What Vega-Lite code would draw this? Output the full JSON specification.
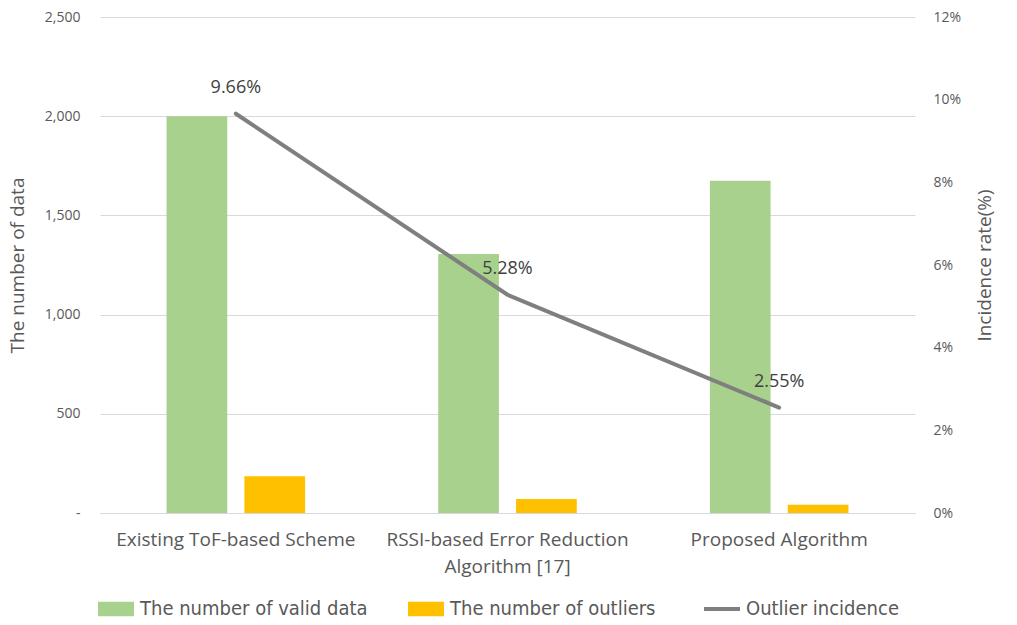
{
  "$schema": "https://vega.github.io/schema/vega-lite/v6.json",
  "width": 815,
  "height": 496,
  "autosize": "none",
  "padding": {"left": 100, "top": 17, "right": 102, "bottom": 112},
  "background": "white",
  "config": {
    "view": {"stroke": null},
    "font": "Open Sans"
  },
  "datasets": {
    "bars": [
      {"category": "Existing ToF-based Scheme", "series": "The number of valid data", "value": 2000},
      {"category": "Existing ToF-based Scheme", "series": "The number of outliers", "value": 185},
      {"category": "RSSI-based Error Reduction Algorithm [17]", "series": "The number of valid data", "value": 1305},
      {"category": "RSSI-based Error Reduction Algorithm [17]", "series": "The number of outliers", "value": 70},
      {"category": "Proposed Algorithm", "series": "The number of valid data", "value": 1675},
      {"category": "Proposed Algorithm", "series": "The number of outliers", "value": 42}
    ],
    "rates": [
      {"category": "Existing ToF-based Scheme", "series": "Outlier incidence", "rate": 0.0966, "label": "9.66%"},
      {"category": "RSSI-based Error Reduction Algorithm [17]", "series": "Outlier incidence", "rate": 0.0528, "label": "5.28%"},
      {"category": "Proposed Algorithm", "series": "Outlier incidence", "rate": 0.0255, "label": "2.55%"}
    ]
  },
  "encoding": {
    "x": {
      "field": "category",
      "type": "nominal",
      "sort": ["Existing ToF-based Scheme", "RSSI-based Error Reduction Algorithm [17]", "Proposed Algorithm"],
      "scale": {"paddingInner": 0.49, "paddingOuter": 0.245},
      "axis": {
        "title": null,
        "labelAngle": 0,
        "labelFontSize": 19,
        "labelColor": "#595959",
        "labelPadding": 17,
        "labelLineHeight": 27,
        "labelLimit": 500,
        "ticks": false,
        "domainColor": "#D9D9D9",
        "domainWidth": 1,
        "labelExpr": "datum.label == 'RSSI-based Error Reduction Algorithm [17]' ? ['RSSI-based Error Reduction', 'Algorithm [17]'] : datum.label"
      }
    },
    "color": {
      "field": "series",
      "type": "nominal",
      "scale": {
        "domain": ["The number of valid data", "The number of outliers", "Outlier incidence"],
        "range": ["#A9D18E", "#FFC000", "#7F7F7F"]
      },
      "legend": {
        "orient": "none",
        "legendX": 6,
        "legendY": 582,
        "direction": "horizontal",
        "columns": 3,
        "title": null,
        "labelFont": "DejaVu Sans Condensed, Roboto",
        "labelFontSize": 20,
        "labelColor": "#595959",
        "labelOffset": 14,
        "columnPadding": 40,
        "symbolSize": 1296,
        "symbolStrokeWidth": 0,
        "labelLimit": 400,
        "encode": {
          "symbols": {
            "update": {
              "shape": {"signal": "datum.value === 'Outlier incidence' ? 'M-1,0H1' : 'M-1,-0.4H1V0.4H-1Z'"},
              "fill": {"signal": "datum.value === 'Outlier incidence' ? 'transparent' : (datum.value === 'The number of valid data' ? '#A9D18E' : '#FFC000')"},
              "stroke": {"value": "#7F7F7F"},
              "strokeWidth": {"signal": "datum.value === 'Outlier incidence' ? 4 : 0"},
              "opacity": {"value": 1}
            }
          }
        }
      }
    }
  },
  "layer": [
    {
      "data": {"name": "bars"},
      "mark": {"type": "bar"},
      "encoding": {
        "xOffset": {
          "field": "series",
          "type": "nominal",
          "sort": ["The number of valid data", "The number of outliers"],
          "scale": {"paddingInner": 0.22, "paddingOuter": 0}
        },
        "y": {
          "field": "value",
          "type": "quantitative",
          "scale": {"domain": [0, 2500]},
          "axis": {
            "title": "The number of data",
            "titleFontSize": 19,
            "titleFontWeight": "normal",
            "titleColor": "#595959",
            "titlePadding": 17,
            "values": [0, 500, 1000, 1500, 2000, 2500],
            "labelExpr": "datum.value === 0 ? '-' : format(datum.value, ',')",
            "labelFontSize": 14,
            "labelColor": "#595959",
            "labelPadding": 20,
            "ticks": false,
            "domain": false,
            "grid": true,
            "gridColor": "#D9D9D9",
            "gridWidth": 1
          }
        }
      }
    },
    {
      "data": {"name": "rates"},
      "layer": [
        {
          "mark": {"type": "line", "strokeWidth": 4, "strokeCap": "round"},
          "encoding": {
            "y": {
              "field": "rate",
              "type": "quantitative",
              "scale": {"domain": [0, 0.12]},
              "axis": {
                "orient": "right",
                "title": "Incidence rate(%)",
                "titleFontSize": 19,
                "titleFontWeight": "normal",
                "titleColor": "#595959",
                "titleAngle": 270,
                "titlePadding": 34,
                "values": [0, 0.02, 0.04, 0.06, 0.08, 0.1, 0.12],
                "format": ".0%",
                "labelFontSize": 14,
                "labelColor": "#595959",
                "labelPadding": 18,
                "ticks": false,
                "domain": false,
                "grid": false
              }
            }
          }
        },
        {
          "mark": {"type": "text", "dy": -26, "fontSize": 18, "color": "#404040"},
          "encoding": {
            "y": {"field": "rate", "type": "quantitative", "scale": {"domain": [0, 0.12]}},
            "text": {"field": "label"},
            "color": {"value": "#404040"}
          }
        }
      ]
    }
  ],
  "resolve": {"scale": {"y": "independent"}}
}
